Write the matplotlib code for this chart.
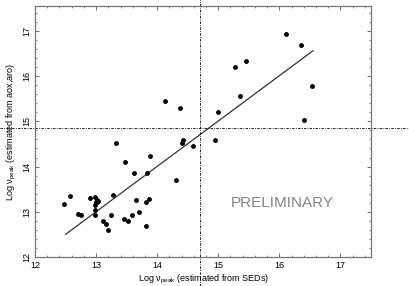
'''
log nu_peak: alpha-estimated vs SED-estimated
'''

import matplotlib
matplotlib.use('Agg')
import matplotlib.pyplot as plt
from matplotlib.ticker import MultipleLocator

plt.rcParams['font.family'] = ['Liberation Sans', 'DejaVu Sans']
plt.rcParams['mathtext.fontset'] = 'custom'
plt.rcParams['mathtext.rm'] = 'Liberation Sans'
plt.rcParams['mathtext.it'] = 'Liberation Sans:italic'

# log nu_peak from SEDs
sed_peak = [12.48, 12.57, 12.71, 12.75, 12.90, 12.99, 13.01, 13.00, 12.98, 13.02,
            13.03, 12.99, 12.98, 13.12, 13.17, 13.19, 13.25, 13.27, 13.32, 13.48,
            13.45, 13.53, 13.59, 13.62, 13.66, 13.70, 13.81, 13.86, 13.82, 13.83,
            13.88, 14.30, 14.12, 14.37, 14.40, 14.42, 14.59, 14.95, 15.00, 15.35,
            15.27, 15.46, 16.11, 16.35, 16.41, 16.54]
# log nu_peak from aox, aro
alpha_peak = [13.17, 13.34, 12.94, 12.92, 13.30, 13.32, 13.27, 13.21, 13.15, 13.21,
              13.24, 13.03, 12.93, 12.80, 12.73, 12.60, 12.92, 13.38, 14.52, 14.11,
              12.84, 12.80, 12.93, 13.85, 13.27, 13.00, 13.22, 13.29, 12.68, 13.86,
              14.24, 13.70, 15.44, 15.29, 14.52, 14.59, 14.46, 14.59, 15.20, 15.55,
              16.20, 16.34, 16.92, 16.68, 15.03, 15.78]

fit_x = [12.50, 16.55]
fit_y = [12.50, 16.56]

cut_x = 14.70
cut_y = 14.85

ticks = [12, 13, 14, 15, 16, 17]

fig = plt.figure(figsize=(4.09, 2.86), dpi=100)
ax = fig.add_axes([35 / 409, 1 - 257 / 286, 336 / 409, 251 / 286])

ax.plot(fit_x, fit_y, color='#333333', lw=0.9)
ax.plot(sed_peak, alpha_peak, 'o', color='black', markersize=3.5, markeredgewidth=0)

dashdot = (0, (3, 1.5, 1, 1.5))
ax.axvline(cut_x, ymin=-0.116, ymax=1.03, clip_on=False, color='black',
           lw=0.6, linestyle=dashdot)
ax.axhline(cut_y, xmin=-0.105, xmax=1.115, clip_on=False, color='black',
           lw=0.6, linestyle=dashdot)

ax.text(16.04, 13.19, 'PRELIMINARY', color='#858585', fontsize=11,
        ha='center', va='center')

ax.set_xlim(12, 17.5)
ax.set_ylim(12, 17.55)
ax.set_xticks(ticks)
ax.set_yticks(ticks)
ax.xaxis.set_minor_locator(MultipleLocator(0.2))
ax.yaxis.set_minor_locator(MultipleLocator(0.2))
ax.tick_params(which='both', direction='in', top=True, right=True,
               labelsize=6.5, color='#555555', pad=3)
ax.tick_params(which='major', length=3, width=0.6)
ax.tick_params(which='minor', length=1.6, width=0.5)
for lab in ax.get_yticklabels():
    lab.set_rotation(90)
    lab.set_va('center')
for sp in ax.spines.values():
    sp.set_color('#777777')
    sp.set_linewidth(0.9)

ax.set_xlabel(r'Log ν$_{\rm peak}$ (estimated from SEDs)', fontsize=6.5, labelpad=2)
ax.set_ylabel(r'Log ν$_{\rm peak}$ (estimated from aox,aro)', fontsize=6.5, labelpad=3)

fig.savefig('out.png', dpi=100)
